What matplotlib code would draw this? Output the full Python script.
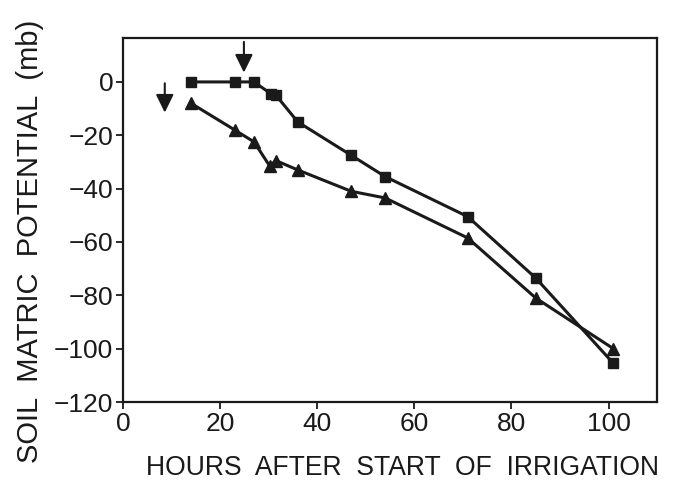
import matplotlib
matplotlib.use("Agg")
import matplotlib.pyplot as plt

plt.rcParams['font.family'] = ['Liberation Sans', 'DejaVu Sans']

# hours after start of irrigation
hours_sq = [14, 23, 27, 30.5, 31.5, 36, 47, 54, 71, 85, 101]
mb_sq = [0, 0, 0, -4.5, -5, -15, -27.5, -35.5, -50.5, -73.5, -105.5]

hours_tri = [14, 23, 27, 30.2, 31.5, 36, 47, 54, 71, 85, 101]
mb_tri = [-8, -18, -22.5, -31.5, -29.5, -33, -41, -43.5, -58.5, -81, -100]

# irrigation arrows: x, tail y, tip y
arrow_x = [8.6, 24.9]
arrow_tail = [-0.5, 15]
arrow_tip = [-11.5, 3.5]

xticks = [0, 20, 40, 60, 80, 100]
yticks = [0, -20, -40, -60, -80, -100, -120]

fig = plt.figure(figsize=(6.73, 4.80), dpi=100)
ax = fig.add_axes([0.1828, 0.1625, 0.7935, 0.7585])

ax.plot(hours_sq, mb_sq, color='#1a1a1a', lw=2.2, marker='s', ms=7,
        mfc='#1a1a1a', mec='#1a1a1a', zorder=3)
ax.plot(hours_tri, mb_tri, color='#1a1a1a', lw=2.2, marker='^', ms=8,
        mfc='#1a1a1a', mec='#1a1a1a', zorder=3)

for x, y0, y1 in zip(arrow_x, arrow_tail, arrow_tip):
    ax.annotate('', xy=(x, y1), xytext=(x, y0),
                arrowprops=dict(arrowstyle='-|>,head_length=0.55,head_width=0.27',
                                mutation_scale=20, color='#1a1a1a', lw=1.5,
                                shrinkA=0, shrinkB=0))

ax.set_xlim(0, 110)
ax.set_ylim(-120, 16.5)
ax.set_xticks(xticks)
ax.set_yticks(yticks)
ax.tick_params(direction='out', length=5, width=1.3, labelsize=19,
               colors='#1a1a1a', pad=2)
for s in ax.spines.values():
    s.set_linewidth(1.6)
    s.set_color('#1a1a1a')

ax.set_xlabel('HOURS  AFTER  START  OF  IRRIGATION', fontsize=19.1,
              color='#1a1a1a', va='top')
ax.xaxis.set_label_coords(0.523, -0.145)
ax.set_ylabel('SOIL  MATRIC  POTENTIAL  (mb)', fontsize=21,
              color='#1a1a1a')
ax.yaxis.set_label_coords(-0.148, 0.44)

fig.savefig('out.png', dpi=100)
